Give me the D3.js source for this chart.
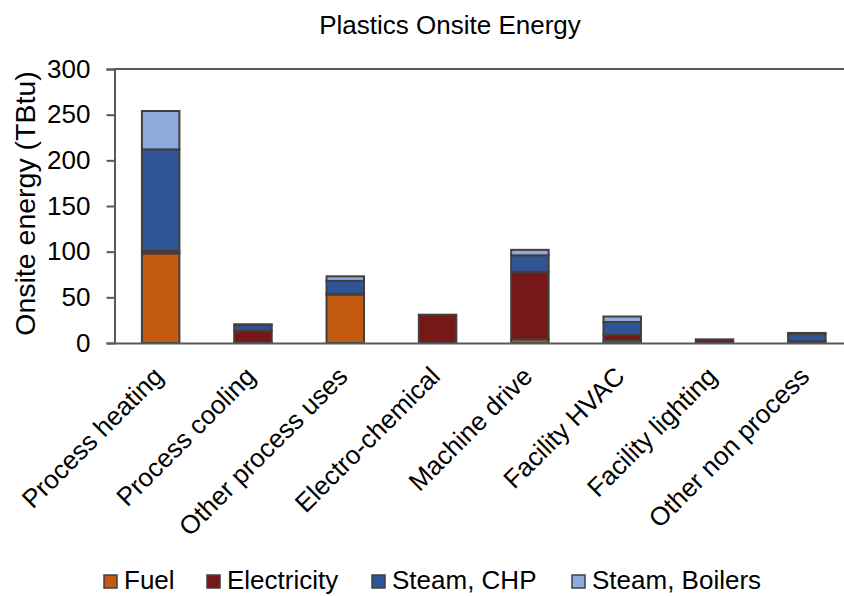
<!DOCTYPE html>
<html>
<head>
<meta charset="utf-8">
<script src="https://cdn.jsdelivr.net/npm/d3@7"></script>
<style>
  html, body { margin: 0; padding: 0; background: #fff; }
  svg { display: block; font-family: "Liberation Sans", Arial, sans-serif; }
</style>
</head>
<body>
<svg id="chart" width="844" height="596"></svg>
<script>
// End uses and the energy carriers stacked in each bar (TBtu)
const categories = ["Process heating", "Process cooling", "Other process uses", "Electro-chemical",
                    "Machine drive", "Facility HVAC", "Facility lighting", "Other non process"];
const seriesNames = ["Fuel", "Electricity", "Steam, CHP", "Steam, Boilers"];
const fuel        = [98, 0.5, 53, 0, 4, 3, 0, 0];
const electricity = [3, 13, 1, 31, 74, 6, 4, 2];
const steamCHP    = [111, 6, 14, 0, 18, 14, 0, 8];
const steamBoiler = [42, 1, 5, 0, 6, 6, 0, 1];
const yTicks = [0, 50, 100, 150, 200, 250, 300];
const colors = ["#C55A11", "#761818", "#2F5597", "#8FAADC"];

const rows = categories.map((c, i) => ({
  category: c,
  "Fuel": fuel[i],
  "Electricity": electricity[i],
  "Steam, CHP": steamCHP[i],
  "Steam, Boilers": steamBoiler[i]
}));

const svg = d3.select("#chart");
const margin = { left: 114.5, right: 853, top: 69, bottom: 343 };

const x = d3.scaleBand().domain(categories).range([margin.left, margin.right])
  .paddingInner(0.594).paddingOuter(0.297);
const y = d3.scaleLinear().domain([0, 300]).range([margin.bottom, margin.top]);
const color = d3.scaleOrdinal().domain(seriesNames).range(colors);

const stacked = d3.stack().keys(seriesNames)(rows);

// Title
svg.append("text")
  .attr("x", 450).attr("y", 34)
  .attr("text-anchor", "middle")
  .attr("font-size", 26)
  .attr("fill", "#000")
  .text("Plastics Onsite Energy");

// Frame top line
svg.append("line")
  .attr("x1", margin.left).attr("x2", margin.right)
  .attr("y1", margin.top).attr("y2", margin.top)
  .attr("stroke", "#595959").attr("stroke-width", 2);

// Bars
svg.append("g").selectAll("g")
  .data(stacked)
  .join("g")
  .attr("fill", d => color(d.key))
  .selectAll("rect")
  .data(d => d)
  .join("rect")
  .attr("x", d => x(d.data.category))
  .attr("width", x.bandwidth())
  .attr("y", d => y(d[1]))
  .attr("height", d => Math.max(0, y(d[0]) - y(d[1])))
  .attr("stroke", "#404040")
  .attr("stroke-width", 2);

// Y axis
const yAxis = svg.append("g")
  .attr("transform", `translate(${margin.left},0)`)
  .call(d3.axisLeft(y).tickValues(yTicks).tickSize(8).tickPadding(16));
yAxis.select(".domain").attr("stroke", "#595959").attr("stroke-width", 2);
yAxis.selectAll(".tick line").attr("stroke", "#595959").attr("stroke-width", 2);
yAxis.selectAll(".tick text")
  .attr("font-size", 26).attr("fill", "#000")
  .attr("font-family", "Liberation Sans, Arial, sans-serif");

// X axis
const xAxis = svg.append("g")
  .attr("transform", `translate(0,${margin.bottom})`)
  .call(d3.axisBottom(x).tickSize(0).tickPadding(0));
xAxis.select(".domain").attr("stroke", "#595959").attr("stroke-width", 2);
xAxis.selectAll(".tick text")
  .attr("font-size", 26).attr("fill", "#000")
  .attr("font-family", "Liberation Sans, Arial, sans-serif")
  .attr("text-anchor", "end")
  .attr("dy", 0)
  .attr("transform", "translate(4,35) rotate(-45)");

// Y axis title
svg.append("text")
  .attr("transform", `translate(35,203.5) rotate(-90)`)
  .attr("text-anchor", "middle")
  .attr("font-size", 28.5)
  .attr("fill", "#000")
  .text("Onsite energy (TBtu)");

// Legend
const legendX = [104, 207, 372, 572];
const legend = svg.append("g").selectAll("g")
  .data(seriesNames)
  .join("g")
  .attr("transform", (d, i) => `translate(${legendX[i]},575)`);
legend.append("rect")
  .attr("width", 13).attr("height", 13)
  .attr("fill", d => color(d))
  .attr("stroke", "#404040").attr("stroke-width", 1.5);
legend.append("text")
  .attr("x", 20).attr("y", 14)
  .attr("font-size", 26).attr("fill", "#000")
  .text(d => d);
</script>
</body>
</html>
